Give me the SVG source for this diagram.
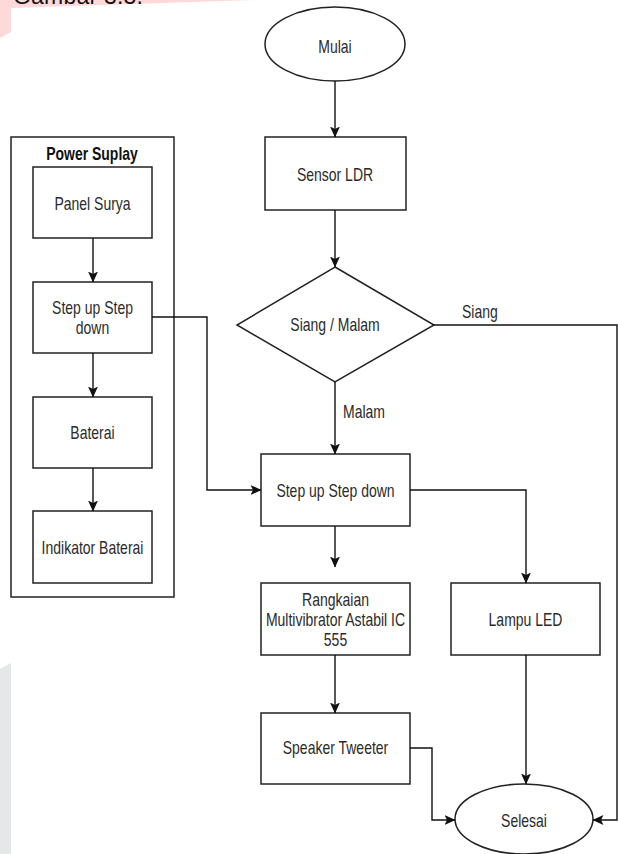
<svg xmlns="http://www.w3.org/2000/svg" width="618" height="854" viewBox="0 0 618 854">
<style>
.bg{fill:#ffffff}
.shape{fill:#ffffff;stroke:#222222;stroke-width:1.5}
.t{font-family:"Liberation Sans",Arial,Helvetica,sans-serif;font-size:14px;fill:#2b2b2b;text-anchor:middle}
.ts{font-family:"Liberation Sans",Arial,Helvetica,sans-serif;font-size:14px;fill:#2b2b2b;text-anchor:start}
.b{font-weight:bold;fill:#111111}
.conn path{fill:none;stroke:#111111;stroke-width:1.4}
</style>
<defs>
<marker id="arr" markerUnits="userSpaceOnUse" markerWidth="11" markerHeight="10" viewBox="0 0 11 10" refX="10.5" refY="5" orient="auto">
<path d="M0,0 L11,5 L0,10 L2.5,5 Z" fill="#111111"/>
</marker>
</defs>
<rect class="bg" x="0" y="0" width="618" height="854"/>
<g id="decor">
<polygon points="0,0 253,0 11,8 11,32 0,38" fill="#ffd9da"/>
<polygon points="0,669 11,663 11,854 0,854" fill="#e6e7e9"/>
<text x="13" y="4" font-family="Liberation Sans,Arial,sans-serif" font-size="23" fill="#111111" textLength="130">Gambar 3.3.</text>
</g>
<g id="power-suplay">
<rect class="shape" x="11" y="137" width="163" height="460"/>
<text class="t b" transform="translate(92,160) scale(1,1.28)">Power Suplay</text>
</g>
<g id="panel-surya">
<rect class="shape" x="33" y="167" width="119" height="71"/>
<text class="t" transform="translate(92.5,210) scale(1,1.3)">Panel Surya</text>
</g>
<g id="stepup-left">
<rect class="shape" x="33" y="282" width="119" height="71"/>
<text class="t" transform="translate(92.5,314) scale(1,1.3)">Step up Step</text>
<text class="t" transform="translate(92.5,334) scale(1,1.3)">down</text>
</g>
<g id="baterai">
<rect class="shape" x="33" y="397" width="119" height="71"/>
<text class="t" transform="translate(92.5,439) scale(1,1.3)">Baterai</text>
</g>
<g id="indikator">
<rect class="shape" x="33" y="511" width="119" height="72"/>
<text class="t" transform="translate(92.5,554) scale(1,1.3)">Indikator Baterai</text>
</g>
<g id="mulai">
<ellipse class="shape" cx="335" cy="44" rx="70" ry="37"/>
<text class="t" transform="translate(335,53) scale(1,1.3)">Mulai</text>
</g>
<g id="sensor-ldr">
<rect class="shape" x="265" y="137" width="141" height="73"/>
<text class="t" transform="translate(335,181) scale(1,1.3)">Sensor LDR</text>
</g>
<g id="siang-malam">
<polygon class="shape" points="335,267 434,325 335,382 237,325"/>
<text class="t" transform="translate(335,331) scale(1,1.3)">Siang / Malam</text>
</g>
<g id="stepup-main">
<rect class="shape" x="261" y="454" width="149" height="72"/>
<text class="t" transform="translate(335.5,497) scale(1,1.3)">Step up Step down</text>
</g>
<g id="rangkaian">
<rect class="shape" x="261" y="583" width="149" height="72"/>
<text class="t" transform="translate(335.5,606) scale(1,1.3)">Rangkaian</text>
<text class="t" transform="translate(335.5,626) scale(1,1.3)">Multivibrator Astabil IC</text>
<text class="t" transform="translate(335.5,646) scale(1,1.3)">555</text>
</g>
<g id="lampu-led">
<rect class="shape" x="451" y="583" width="149" height="72"/>
<text class="t" transform="translate(525.5,626) scale(1,1.3)">Lampu LED</text>
</g>
<g id="speaker">
<rect class="shape" x="261" y="713" width="149" height="71"/>
<text class="t" transform="translate(335.5,754) scale(1,1.3)">Speaker Tweeter</text>
</g>
<g id="selesai">
<ellipse class="shape" cx="524" cy="819" rx="69" ry="35"/>
<text class="t" transform="translate(524,827) scale(1,1.3)">Selesai</text>
</g>
<g id="connectors" class="conn">
<path d="M335,81 V137" marker-end="url(#arr)"/>
<path d="M335,210 V267" marker-end="url(#arr)"/>
<path d="M335,382 V454" marker-end="url(#arr)"/>
<path d="M434,325 H617 V820 H593" marker-end="url(#arr)"/>
<path d="M93,238 V282" marker-end="url(#arr)"/>
<path d="M93,353 V397" marker-end="url(#arr)"/>
<path d="M93,468 V511" marker-end="url(#arr)"/>
<path d="M152,317 H207 V490 H261" marker-end="url(#arr)"/>
<path d="M335,526 V567" marker-end="url(#arr)"/>
<path d="M410,490 H526 V583" marker-end="url(#arr)"/>
<path d="M335,655 V713" marker-end="url(#arr)"/>
<path d="M410,748 H432 V820 H455" marker-end="url(#arr)"/>
<path d="M526,655 V784" marker-end="url(#arr)"/>
</g>
<g id="labels">
<text class="ts" transform="translate(462,318) scale(1,1.3)">Siang</text>
<text class="ts" transform="translate(343,418) scale(1,1.3)">Malam</text>
</g>
</svg>
